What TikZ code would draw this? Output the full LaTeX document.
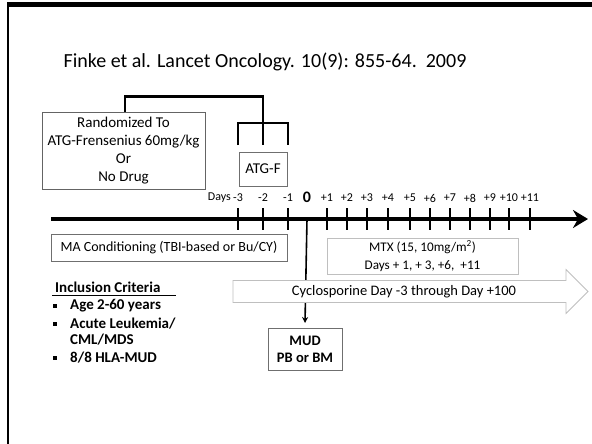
\documentclass[tikz,border=0pt]{standalone}
\usepackage{fontspec}
\setmainfont{Carlito}
\usetikzlibrary{arrows.meta}
\definecolor{boxgrey}{HTML}{6F6F6F}
\definecolor{lightgrey}{HTML}{BFBFBF}
\tikzset{
  px/.style={x=1pt,y=-1pt},
  infobox/.style={draw=boxgrey,line width=0.8pt,fill=white,inner sep=0pt,align=center},
  bracketline/.style={line width=2.6pt},
  tick/.style={line width=2.2pt},
  daylabel/.style={font=\fontsize{12}{14}\selectfont,inner sep=0pt},
  crit/.style={font=\bfseries\fontsize{15}{17}\selectfont,anchor=west,inner sep=0pt},
  bulletmark/.style={fill=black,minimum size=4pt,inner sep=0pt}
}
\begin{document}
\begin{tikzpicture}[px]
\useasboundingbox (0,0) rectangle (592,444);
% slide frame (top and left edges)
\fill[black] (6.7,2.5) rectangle (592,7);
\fill[black] (6.7,2.5) rectangle (9.3,444);

% title
\node[font=\fontsize{20}{24}\selectfont,inner sep=0pt] (title) at (265,62)
  {Finke et al. Lancet Oncology. 10(9): 855-64.\ \ 2009};

% randomisation box and ATG-F box
\node[infobox,draw=boxgrey!90!black,minimum width=163pt,minimum height=77pt,
      font=\fontsize{15}{18}\selectfont] (rand) at (123.5,150.5)
  {Randomized To\\ATG-Frensenius 60mg/kg\\Or\\No Drug};
\node[infobox,minimum width=48pt,minimum height=34pt,
      font=\fontsize{15}{17}\selectfont] (atg) at (263,169) {ATG-F};

% brackets
\coordinate (b1l) at (125,96.5);
\coordinate (b1r) at (263,96.5);
\coordinate (b2l) at (238,123);
\coordinate (b2m) at (263,123);
\coordinate (b2r) at (288,123);
\draw[bracketline] (rand.north -| b1l) -- (b1l) -- (b1r) -- (b2m);
\draw[bracketline] (b2l) ++(0,22) -- (b2l) -- (b2r) -- ++(0,22);
\draw[bracketline] (b2m) -- ++(0,22);

% time axis
\coordinate (axL) at (51,219);
\coordinate (axR) at (588,219);
\draw[line width=3.8pt,-{Stealth[length=15pt,width=18pt,inset=5pt]}] (axL) -- (axR);

% day ticks and labels
\node[daylabel,anchor=east] (days) at (231,198) {Days};
\foreach \x/\t in {238/-3,263/-2,288/-1}{
  \draw[tick] (\x,208) -- (\x,230);
  \node[daylabel] at (\x,198) {\t};
}
\foreach \x/\t in {327/+1,347/+2,367/+3,388/+4,410/+5,430/+6,450/+7,470/+8,490/+9,509/+10,530/+11}{
  \draw[tick] (\x,208) -- (\x,230);
  \node[daylabel] at (\x,198) {\t};
}
\node[font=\bfseries\fontsize{16}{18}\selectfont,inner sep=0pt] (zero) at (307,197) {0};

% transplant day marker
\coordinate (z0) at (307,219);
\node[infobox,draw=boxgrey,line width=1pt,minimum width=74pt,minimum height=42pt,
      font=\bfseries\fontsize{14.5}{17}\selectfont] (mud) at (305,349) {MUD\\PB or BM};
\draw[line width=1.6pt,-{Stealth[length=6pt,width=6pt]}] (z0) -- (mud.north |- 0,323);

% conditioning and MTX boxes
\node[infobox,minimum width=236pt,minimum height=27pt,
      font=\fontsize{14}{16}\selectfont] (ma) at (169,247.5)
  {MA Conditioning (TBI-based or Bu/CY)};
\node[infobox,draw=lightgrey,minimum width=191pt,minimum height=36pt,
      font=\fontsize{13.2}{18}\selectfont] (mtx) at (422.5,256)
  {MTX (15, 10mg/m\textsuperscript{2})\\Days + 1, + 3, +6,\ \ +11};

% cyclosporine arrow
\coordinate (csaL) at (233,291.5);
\coordinate (csaTip) at (588,291.5);
\draw[draw=lightgrey,fill=white,line width=0.8pt]
  (csaL) ++(0,-11) -- (566,280.5) -- (566,269.5) -- (csaTip) -- (566,313.5)
  -- (566,302.5) -- (233,302.5) -- cycle;
\node[font=\fontsize{14.5}{16}\selectfont,inner sep=0pt] (csatext) at (404,292)
  {Cyclosporine Day -3 through Day +100};

% inclusion criteria
\node[crit] (inc) at (55,287) {Inclusion Criteria};
\draw[line width=1pt] (52,295) -- (176,295);
\node[bulletmark] (bu1) at (55,306) {};
\node[crit] (c1) at (70,306) {Age 2-60 years};
\node[bulletmark] (bu2) at (55,324) {};
\node[crit] (c2) at (70,324) {Acute Leukemia/};
\node[crit] (c3) at (70,340) {CML/MDS};
\node[bulletmark] (bu3) at (55,358) {};
\node[crit] (c4) at (70,358) {8/8 HLA-MUD};
\end{tikzpicture}
\end{document}
